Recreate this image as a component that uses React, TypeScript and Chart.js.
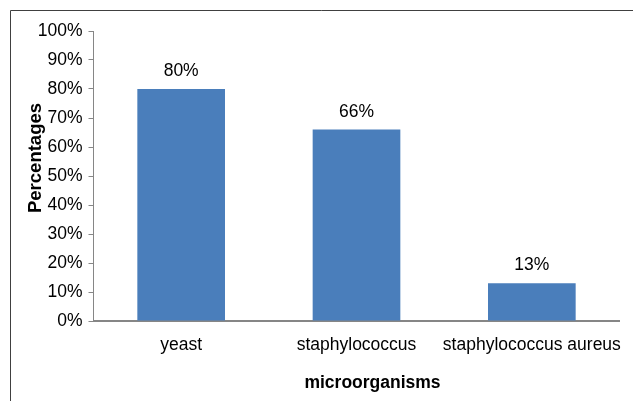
import { useEffect, useRef } from "react";
import { Chart, registerables } from "chart.js";

Chart.register(...registerables);

const categories = ["yeast", "staphylococcus", "staphylococcus aureus"];
const percentages = [80, 66, 13];
const yTickValues = [0, 10, 20, 30, 40, 50, 60, 70, 80, 90, 100];
const yTitle = "Percentages";
const xTitle = "microorganisms";

const FONT = "'Liberation Sans', Arial, sans-serif";
const AXIS_GRAY = "#868686";
const BAR_BLUE = "#4a7ebb";

export default function App() {
  const ref = useRef<HTMLCanvasElement>(null);

  useEffect(() => {
    if (!ref.current) return;

    const decor = {
      id: "decor",
      beforeDraw(chart: any) {
        const ctx = chart.ctx;
        ctx.save();
        ctx.strokeStyle = "#404040";
        ctx.lineWidth = 1;
        ctx.beginPath();
        ctx.moveTo(10.5, chart.height);
        ctx.lineTo(10.5, 10.5);
        ctx.lineTo(chart.width, 10.5);
        ctx.stroke();
        ctx.restore();
      },
      afterDatasetsDraw(chart: any) {
        const ctx = chart.ctx;
        const meta = chart.getDatasetMeta(0);
        const area = chart.chartArea;
        ctx.save();
        ctx.fillStyle = "#000";
        ctx.font = `17.5px ${FONT}`;
        ctx.textAlign = "center";
        ctx.textBaseline = "alphabetic";
        meta.data.forEach((bar: any, i: number) => {
          ctx.fillText(`${percentages[i]}%`, bar.x, bar.y - 13);
        });
        // axis titles
        ctx.font = `bold 17.5px ${FONT}`;
        ctx.fillText(xTitle, (area.left + area.right) / 2 + 16, area.bottom + 67);
        ctx.font = `bold 18.5px ${FONT}`;
        ctx.translate(41, (area.top + area.bottom) / 2 - 18);
        ctx.rotate(-Math.PI / 2);
        ctx.fillText(yTitle, 0, 0);
        ctx.restore();
      },
    };

    const chart = new Chart(ref.current, {
      type: "bar",
      data: {
        labels: categories,
        datasets: [
          {
            data: percentages,
            backgroundColor: BAR_BLUE,
            borderWidth: 0,
            barPercentage: 0.5,
            categoryPercentage: 1,
          },
        ],
      },
      options: {
        animation: false,
        responsive: false,
        layout: { padding: { top: 31, right: 13.5, left: 0, bottom: 0 } },
        plugins: {
          legend: { display: false },
          tooltip: { enabled: false },
        },
        scales: {
          x: {
            grid: { display: true, drawOnChartArea: false, drawTicks: false },
            border: { display: true, color: AXIS_GRAY, width: 2 },
            ticks: {
              color: "#000",
              font: { family: FONT, size: 17.5 },
              padding: 14,
              autoSkip: false,
              maxRotation: 0,
              minRotation: 0,
            },
            afterFit(scale: any) {
              scale.height = 80;
              scale.paddingLeft = 0;
              scale.paddingRight = 0;
            },
          },
          y: {
            min: 0,
            max: 100,
            grid: {
              display: true,
              drawOnChartArea: false,
              drawTicks: true,
              tickLength: 5,
              color: AXIS_GRAY,
            },
            border: { display: true, color: AXIS_GRAY, width: 1 },
            afterBuildTicks(scale: any) {
              scale.ticks = yTickValues.map((v) => ({ value: v }));
            },
            ticks: {
              color: "#000",
              font: { family: FONT, size: 17.5 },
              padding: 6,
              callback: (v: any) => `${v}%`,
            },
            afterFit(scale: any) {
              scale.width = 93.5;
              scale.paddingTop = 0;
              scale.paddingBottom = 0;
            },
          },
        },
      },
      plugins: [decor],
    });

    return () => chart.destroy();
  }, []);

  return (
    <canvas
      ref={ref}
      width={633}
      height={401}
      style={{ position: "absolute", left: 0, top: 0, width: 633, height: 401 }}
    />
  );
}
